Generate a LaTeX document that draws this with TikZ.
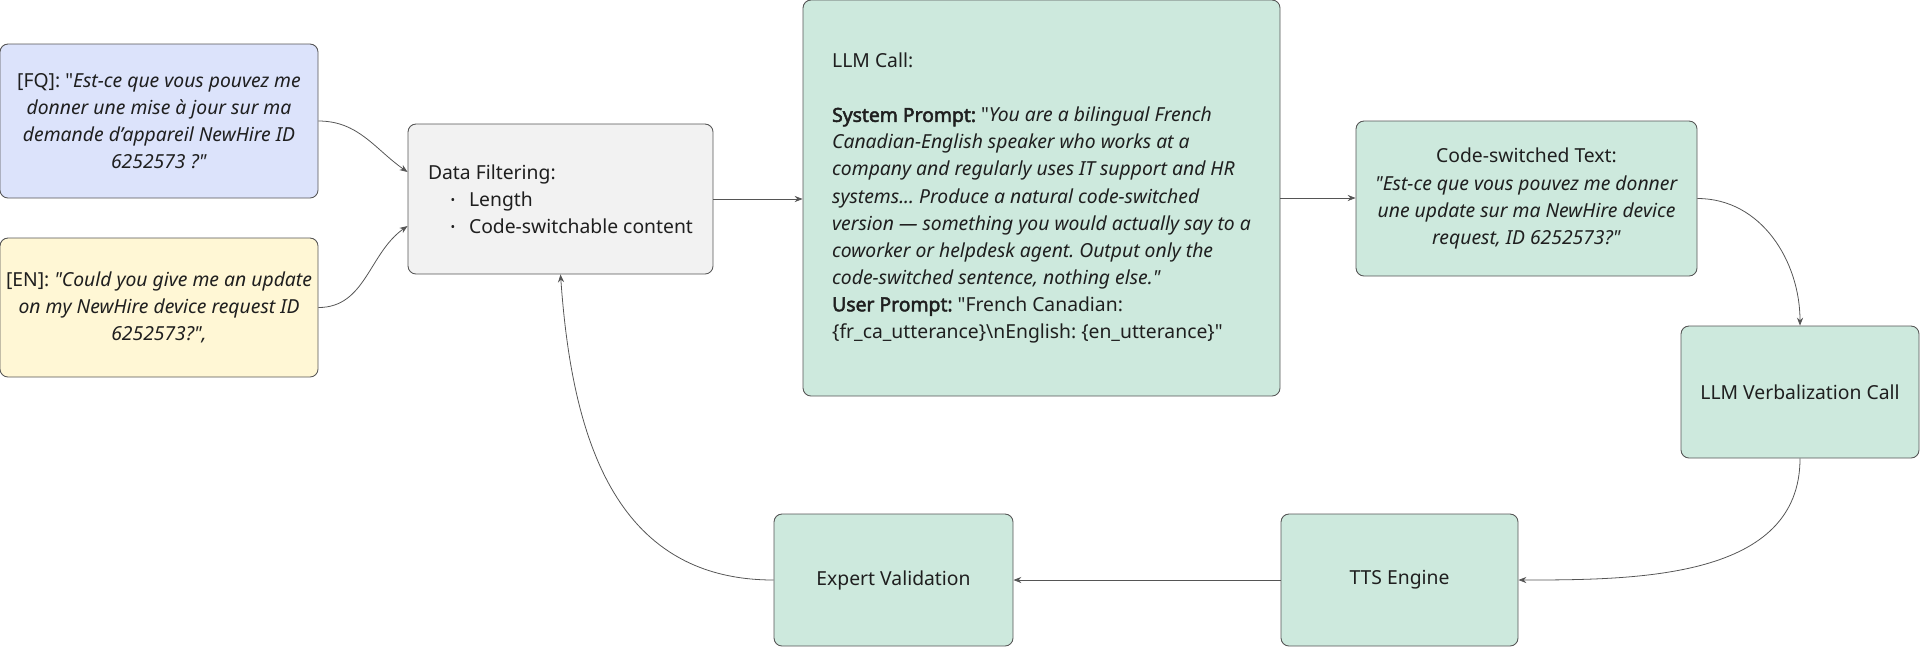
\documentclass[tikz,border=0pt]{standalone}
\usepackage{fontspec}
\setmainfont{Noto Sans}[Ligatures=TeXOff, AutoFakeBold=2.5]
\usetikzlibrary{arrows.meta}
\frenchspacing

\definecolor{fqblue}{HTML}{DCE3FB}
\definecolor{enyellow}{HTML}{FFF7D5}
\definecolor{filtgray}{HTML}{F2F2F2}
\definecolor{stepgreen}{HTML}{CDE9DD}
\definecolor{edgegray}{HTML}{555555}

\tikzset{
  card/.style={draw=edgegray, line width=0.5pt, rounded corners=0.16cm, inner sep=0pt,
    font=\fontsize{11}{15.4}\selectfont, text=black!88},
  flow/.style={draw=edgegray, line width=0.45pt, -{Stealth[length=4.5pt,width=3.5pt]}}
}
\newcommand{\filtitem}{\hspace*{0.45cm}\makebox[0.37cm][l]{\raisebox{0.15ex}{\scriptsize •}}}

\begin{document}
\begin{tikzpicture}
    \useasboundingbox (0,0) rectangle (38.4,-12.92);

    % Input utterances
    \node[card, fill=fqblue, minimum width=6.36cm, minimum height=3.08cm, align=center] (fq) at (3.18,-2.42)
      {[FQ]: "\textit{Est-ce que vous pouvez me}\\ \textit{donner une mise à jour sur ma}\\ \textit{demande d’appareil NewHire ID}\\ \textit{6252573 ?"}};
    \node[card, fill=enyellow, minimum width=6.36cm, minimum height=2.78cm, align=center] (en) at (3.18,-6.15)
      {[EN]: \textit{"Could you give me an update}\\ \textit{on my NewHire device request ID}\\ \textit{6252573?",}};

    % Filtering
    \node[card, fill=filtgray, minimum width=6.10cm, minimum height=3.0cm, align=left] (filt) at (11.21,-3.98)
      {Data Filtering:\\ \filtitem Length\\ \filtitem Code-switchable content};

    % LLM call
    \node[card, fill=stepgreen, minimum width=9.54cm, minimum height=7.92cm, align=left] (llm) at (20.83,-3.96)
      {LLM Call:\\[15.4pt]
       \textbf{System Prompt:} "\textit{You are a bilingual French}\\
       \textit{Canadian-English speaker who works at a}\\
       \textit{company and regularly uses IT support and HR}\\
       \textit{systems... Produce a natural code-switched}\\
       \textit{version — something you would actually say to a}\\
       \textit{coworker or helpdesk agent. Output only the}\\
       \textit{code-switched sentence, nothing else."}\\
       \textbf{User Prompt:} "French Canadian:\\
       \{fr\_ca\_utterance\}\textbackslash nEnglish: \{en\_utterance\}"};

    % Output and later steps
    \node[card, fill=stepgreen, minimum width=6.82cm, minimum height=3.10cm, align=center] (cs) at (30.53,-3.97)
      {Code-switched Text:\\ \textit{"Est-ce que vous pouvez me donner}\\ \textit{une update sur ma NewHire device}\\ \textit{request, ID 6252573?"}};
    \node[card, fill=stepgreen, minimum width=4.76cm, minimum height=2.64cm] (verb) at (36.0,-7.84) {LLM Verbalization Call};
    \node[card, fill=stepgreen, minimum width=4.74cm, minimum height=2.64cm] (tts) at (27.99,-11.6) {TTS Engine};
    \node[card, fill=stepgreen, minimum width=4.78cm, minimum height=2.64cm] (exp) at (17.87,-11.6) {Expert Validation};

    % Connectors
    \draw[flow] (fq.east) to[out=0, in=145] ([yshift=0.54cm]filt.west);
    \draw[flow] (en.east) to[out=0, in=215] ([yshift=-0.54cm]filt.west);
    \draw[flow] (filt.east) -- (filt.east -| llm.west);
    \draw[flow] (llm.east) -- (llm.east -| cs.west);
    \draw[flow] (cs.east) to[out=0, in=90] (verb.north);
    \draw[flow] (verb.south) to[out=-90, in=0] (tts.east);
    \draw[flow] (tts.west) -- (exp.east);
    \draw[flow] (exp.west) to[out=180, in=-86, looseness=1.1] (filt.south);
\end{tikzpicture}
\end{document}
